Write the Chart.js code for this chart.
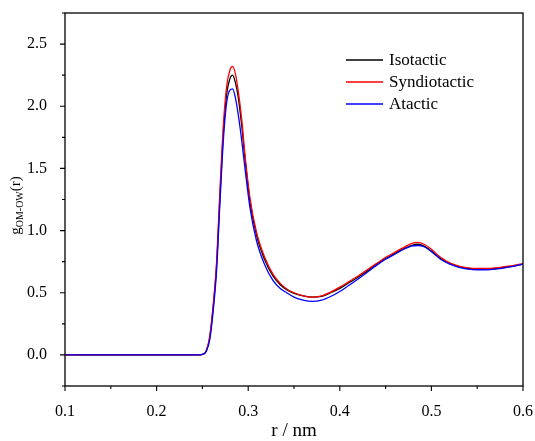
<!DOCTYPE html>
<html>
<head>
<meta charset="utf-8">
<script src="https://cdn.jsdelivr.net/npm/chart.js@4/dist/chart.umd.min.js"></script>
<style>
html,body{margin:0;padding:0;background:#fff;}
canvas{display:block;}
</style>
</head>
<body>
<canvas id="c" width="535" height="441"></canvas>
<script>
const rValues = [0.10,0.20,0.245,0.250,0.254,0.258,0.262,0.2655,0.269,0.273,
  0.2765,0.280,0.283,0.286,0.289,0.293,0.2965,0.302,0.309,0.318,
  0.327,0.335,0.342,0.350,0.360,0.370,0.380,0.390,0.400,0.410,
  0.420,0.430,0.440,0.450,0.460,0.470,0.478,0.485,0.492,0.500,
  0.510,0.520,0.530,0.540,0.550,0.560,0.570,0.580,0.590,0.600];
const isotactic = [0,0,0,0.005,0.03,0.14,0.40,0.72,1.25,1.80,
  2.10,2.22,2.25,2.19,2.08,1.84,1.58,1.23,0.965,0.765,
  0.635,0.565,0.525,0.495,0.475,0.465,0.47,0.50,0.535,0.58,
  0.625,0.675,0.73,0.775,0.815,0.855,0.88,0.89,0.875,0.835,
  0.775,0.735,0.71,0.695,0.69,0.69,0.695,0.705,0.715,0.73];
const syndiotactic = [0,0,0,0.005,0.03,0.15,0.42,0.75,1.30,1.86,
  2.16,2.29,2.32,2.26,2.13,1.89,1.61,1.26,0.99,0.785,
  0.65,0.575,0.53,0.50,0.475,0.465,0.475,0.505,0.545,0.59,
  0.635,0.685,0.735,0.785,0.825,0.865,0.895,0.905,0.89,0.85,
  0.785,0.74,0.715,0.70,0.695,0.695,0.70,0.71,0.72,0.735];
const atactic = [0,0,0,0.004,0.025,0.12,0.37,0.68,1.20,1.74,
  2.03,2.13,2.14,2.07,1.94,1.72,1.50,1.18,0.92,0.725,
  0.60,0.535,0.50,0.465,0.44,0.43,0.44,0.47,0.51,0.56,
  0.61,0.665,0.72,0.77,0.81,0.85,0.875,0.88,0.87,0.83,
  0.77,0.73,0.705,0.69,0.685,0.685,0.69,0.70,0.715,0.73];
const seriesNames = ['Isotactic','Syndiotactic','Atactic'];
const seriesColors = ['#000000','#ff0000','#0000ff'];
const xTitle = 'r / nm';
const yTitleMain = 'g';
const yTitleSub = 'OM-OW';
const yTitleTail = '(r)';

const FONT = '"Liberation Serif", "Times New Roman", serif';
const allSeries = [isotactic, syndiotactic, atactic];

const datasets = allSeries.map((vals, i) => ({
  label: seriesNames[i],
  data: rValues.map((r, j) => ({x: r, y: vals[j]})),
  borderColor: seriesColors[i],
  backgroundColor: seriesColors[i],
  borderWidth: 1.3,
  pointRadius: 0,
  cubicInterpolationMode: 'monotone',
  fill: false,
  order: 2 - i
}));

function isMajor(v, step) {
  const k = v / step;
  return Math.abs(k - Math.round(k)) < 1e-6;
}

const decor = {
  id: 'decor',
  afterDraw(chart) {
    const ctx = chart.ctx;
    const a = chart.chartArea;
    const xs = chart.scales.x, ys = chart.scales.y;
    ctx.save();
    ctx.strokeStyle = '#000';
    ctx.lineWidth = 1.3;
    ctx.strokeRect(a.left, a.top, a.right - a.left, a.bottom - a.top);
    ctx.lineWidth = 1.1;
    ctx.beginPath();
    xs.ticks.forEach(t => {
      const px = xs.getPixelForValue(t.value);
      const len = isMajor(t.value, 0.1) ? 5 : 3;
      ctx.moveTo(px, a.bottom); ctx.lineTo(px, a.bottom + len);
    });
    ys.ticks.forEach(t => {
      const py = ys.getPixelForValue(t.value);
      const len = isMajor(t.value, 0.5) ? 5 : 3;
      ctx.moveTo(a.left, py); ctx.lineTo(a.left - len, py);
    });
    ctx.stroke();

    // y title with subscript
    ctx.fillStyle = '#000';
    ctx.translate(20, (a.top + a.bottom) / 2 + 6);
    ctx.rotate(-Math.PI / 2);
    ctx.textBaseline = 'alphabetic';
    ctx.font = '15px ' + FONT;
    const w1 = ctx.measureText(yTitleMain).width;
    const w3 = ctx.measureText(yTitleTail).width;
    ctx.font = '10px ' + FONT;
    const w2 = ctx.measureText(yTitleSub).width;
    let x = -(w1 + w2 + w3) / 2;
    ctx.font = '15px ' + FONT;
    ctx.fillText(yTitleMain, x, 0); x += w1;
    ctx.font = '10px ' + FONT;
    ctx.fillText(yTitleSub, x, 3); x += w2;
    ctx.font = '15px ' + FONT;
    ctx.fillText(yTitleTail, x, 0);
    ctx.restore();

    // x title
    ctx.save();
    ctx.fillStyle = '#000';
    ctx.font = '19px ' + FONT;
    ctx.textAlign = 'center';
    ctx.textBaseline = 'middle';
    ctx.fillText(xTitle, (a.left + a.right) / 2, 431);
    ctx.restore();

    // legend
    ctx.save();
    ctx.font = '17px ' + FONT;
    ctx.textBaseline = 'middle';
    seriesNames.forEach((name, i) => {
      const y = 60 + 22 * i;
      ctx.strokeStyle = seriesColors[i];
      ctx.lineWidth = 1.3;
      ctx.beginPath(); ctx.moveTo(346, y); ctx.lineTo(383, y); ctx.stroke();
      ctx.fillStyle = '#000';
      ctx.fillText(name, 389, y + 1);
    });
    ctx.restore();
  }
};

new Chart(document.getElementById('c'), {
  type: 'line',
  data: { datasets },
  options: {
    responsive: false,
    animation: false,
    devicePixelRatio: 1,
    layout: { padding: { left: 0, top: 13, right: 12, bottom: 0 } },
    plugins: { legend: { display: false }, tooltip: { enabled: false } },
    scales: {
      x: {
        type: 'linear', min: 0.1, max: 0.6,
        grid: { display: false },
        border: { display: false },
        ticks: {
          stepSize: 0.05, padding: 8, color: '#000',
          font: { family: FONT, size: 16 },
          maxRotation: 0, autoSkip: false,
          callback: v => isMajor(v, 0.1) ? v.toFixed(1) : ''
        },
        afterFit: s => { s.height = 55; s.paddingLeft = 0; s.paddingRight = 0; }
      },
      y: {
        type: 'linear', min: -0.25, max: 2.75,
        grid: { display: false },
        border: { display: false },
        ticks: {
          stepSize: 0.25, padding: 10, color: '#000',
          font: { family: FONT, size: 16 },
          autoSkip: false,
          callback: v => (isMajor(v, 0.5) && v >= 0) ? v.toFixed(1) : ''
        },
        afterFit: s => { s.width = 65; s.paddingTop = 0; s.paddingBottom = 0; }
      }
    }
  },
  plugins: [decor]
});
</script>
</body>
</html>
